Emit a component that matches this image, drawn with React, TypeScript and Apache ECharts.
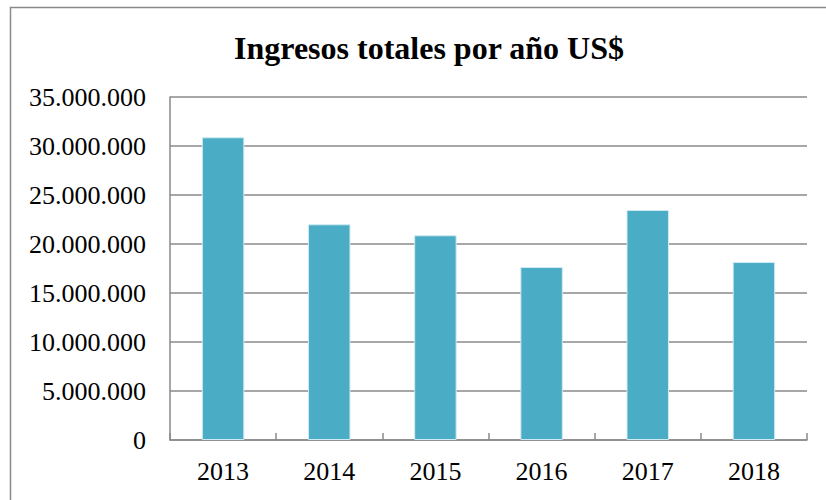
import React, { useEffect, useRef } from "react";
import * as echarts from "echarts";

const categories = ["2013", "2014", "2015", "2016", "2017", "2018"];
const ingresos = [30890000, 22010000, 20890000, 17650000, 23470000, 18160000];
const titleText = "Ingresos totales por año US$";

const fmt = (v: number) => String(Math.round(v)).replace(/\B(?=(\d{3})+(?!\d))/g, ".");

export default function App() {
  const ref = useRef<HTMLDivElement>(null);
  useEffect(() => {
    if (!ref.current) return;
    const chart = echarts.init(ref.current, null, { renderer: "svg" });
    const font = "'Liberation Serif', 'Times New Roman', serif";
    chart.setOption({
      animation: false,
      backgroundColor: "#ffffff",
      title: {
        text: titleText,
        left: 424,
        textAlign: "center",
        top: 27,
        textStyle: { fontFamily: font, fontSize: 32, fontWeight: "bold", color: "#000" },
      },
      graphic: [
        {
          type: "rect",
          shape: { x: 10.5, y: 7.5, width: 840, height: 520 },
          style: { fill: "none", stroke: "#8a8a8a", lineWidth: 1.5 },
          silent: true,
        },
      ],
      grid: { left: 170, top: 97, right: 19, bottom: 60 },
      xAxis: {
        type: "category",
        data: categories,
        boundaryGap: true,
        axisLine: { show: true, lineStyle: { color: "#8a8a8a", width: 1.5 } },
        axisTick: { show: true, inside: true, length: 7, lineStyle: { color: "#8a8a8a", width: 1.5 } },
        axisLabel: { fontFamily: font, fontSize: 26, color: "#000", margin: 18 },
      },
      yAxis: {
        type: "value",
        min: 0,
        max: 35000000,
        interval: 5000000,
        axisLine: { show: true, lineStyle: { color: "#8a8a8a", width: 1.5 } },
        axisTick: { show: false },
        splitLine: { show: true, lineStyle: { color: "#8a8a8a", width: 1.5 } },
        axisLabel: { fontFamily: font, fontSize: 26, color: "#000", margin: 24, formatter: fmt },
      },
      series: [
        {
          type: "bar",
          data: ingresos,
          barWidth: "40%",
          itemStyle: { color: "#4BACC6", borderColor: "#cfeaf2", borderWidth: 1 },
        },
      ],
    });
    return () => chart.dispose();
  }, []);
  return (
    <div
      ref={ref}
      style={{ position: "fixed", left: 0, top: 0, width: 826, height: 500 }}
    />
  );
}
